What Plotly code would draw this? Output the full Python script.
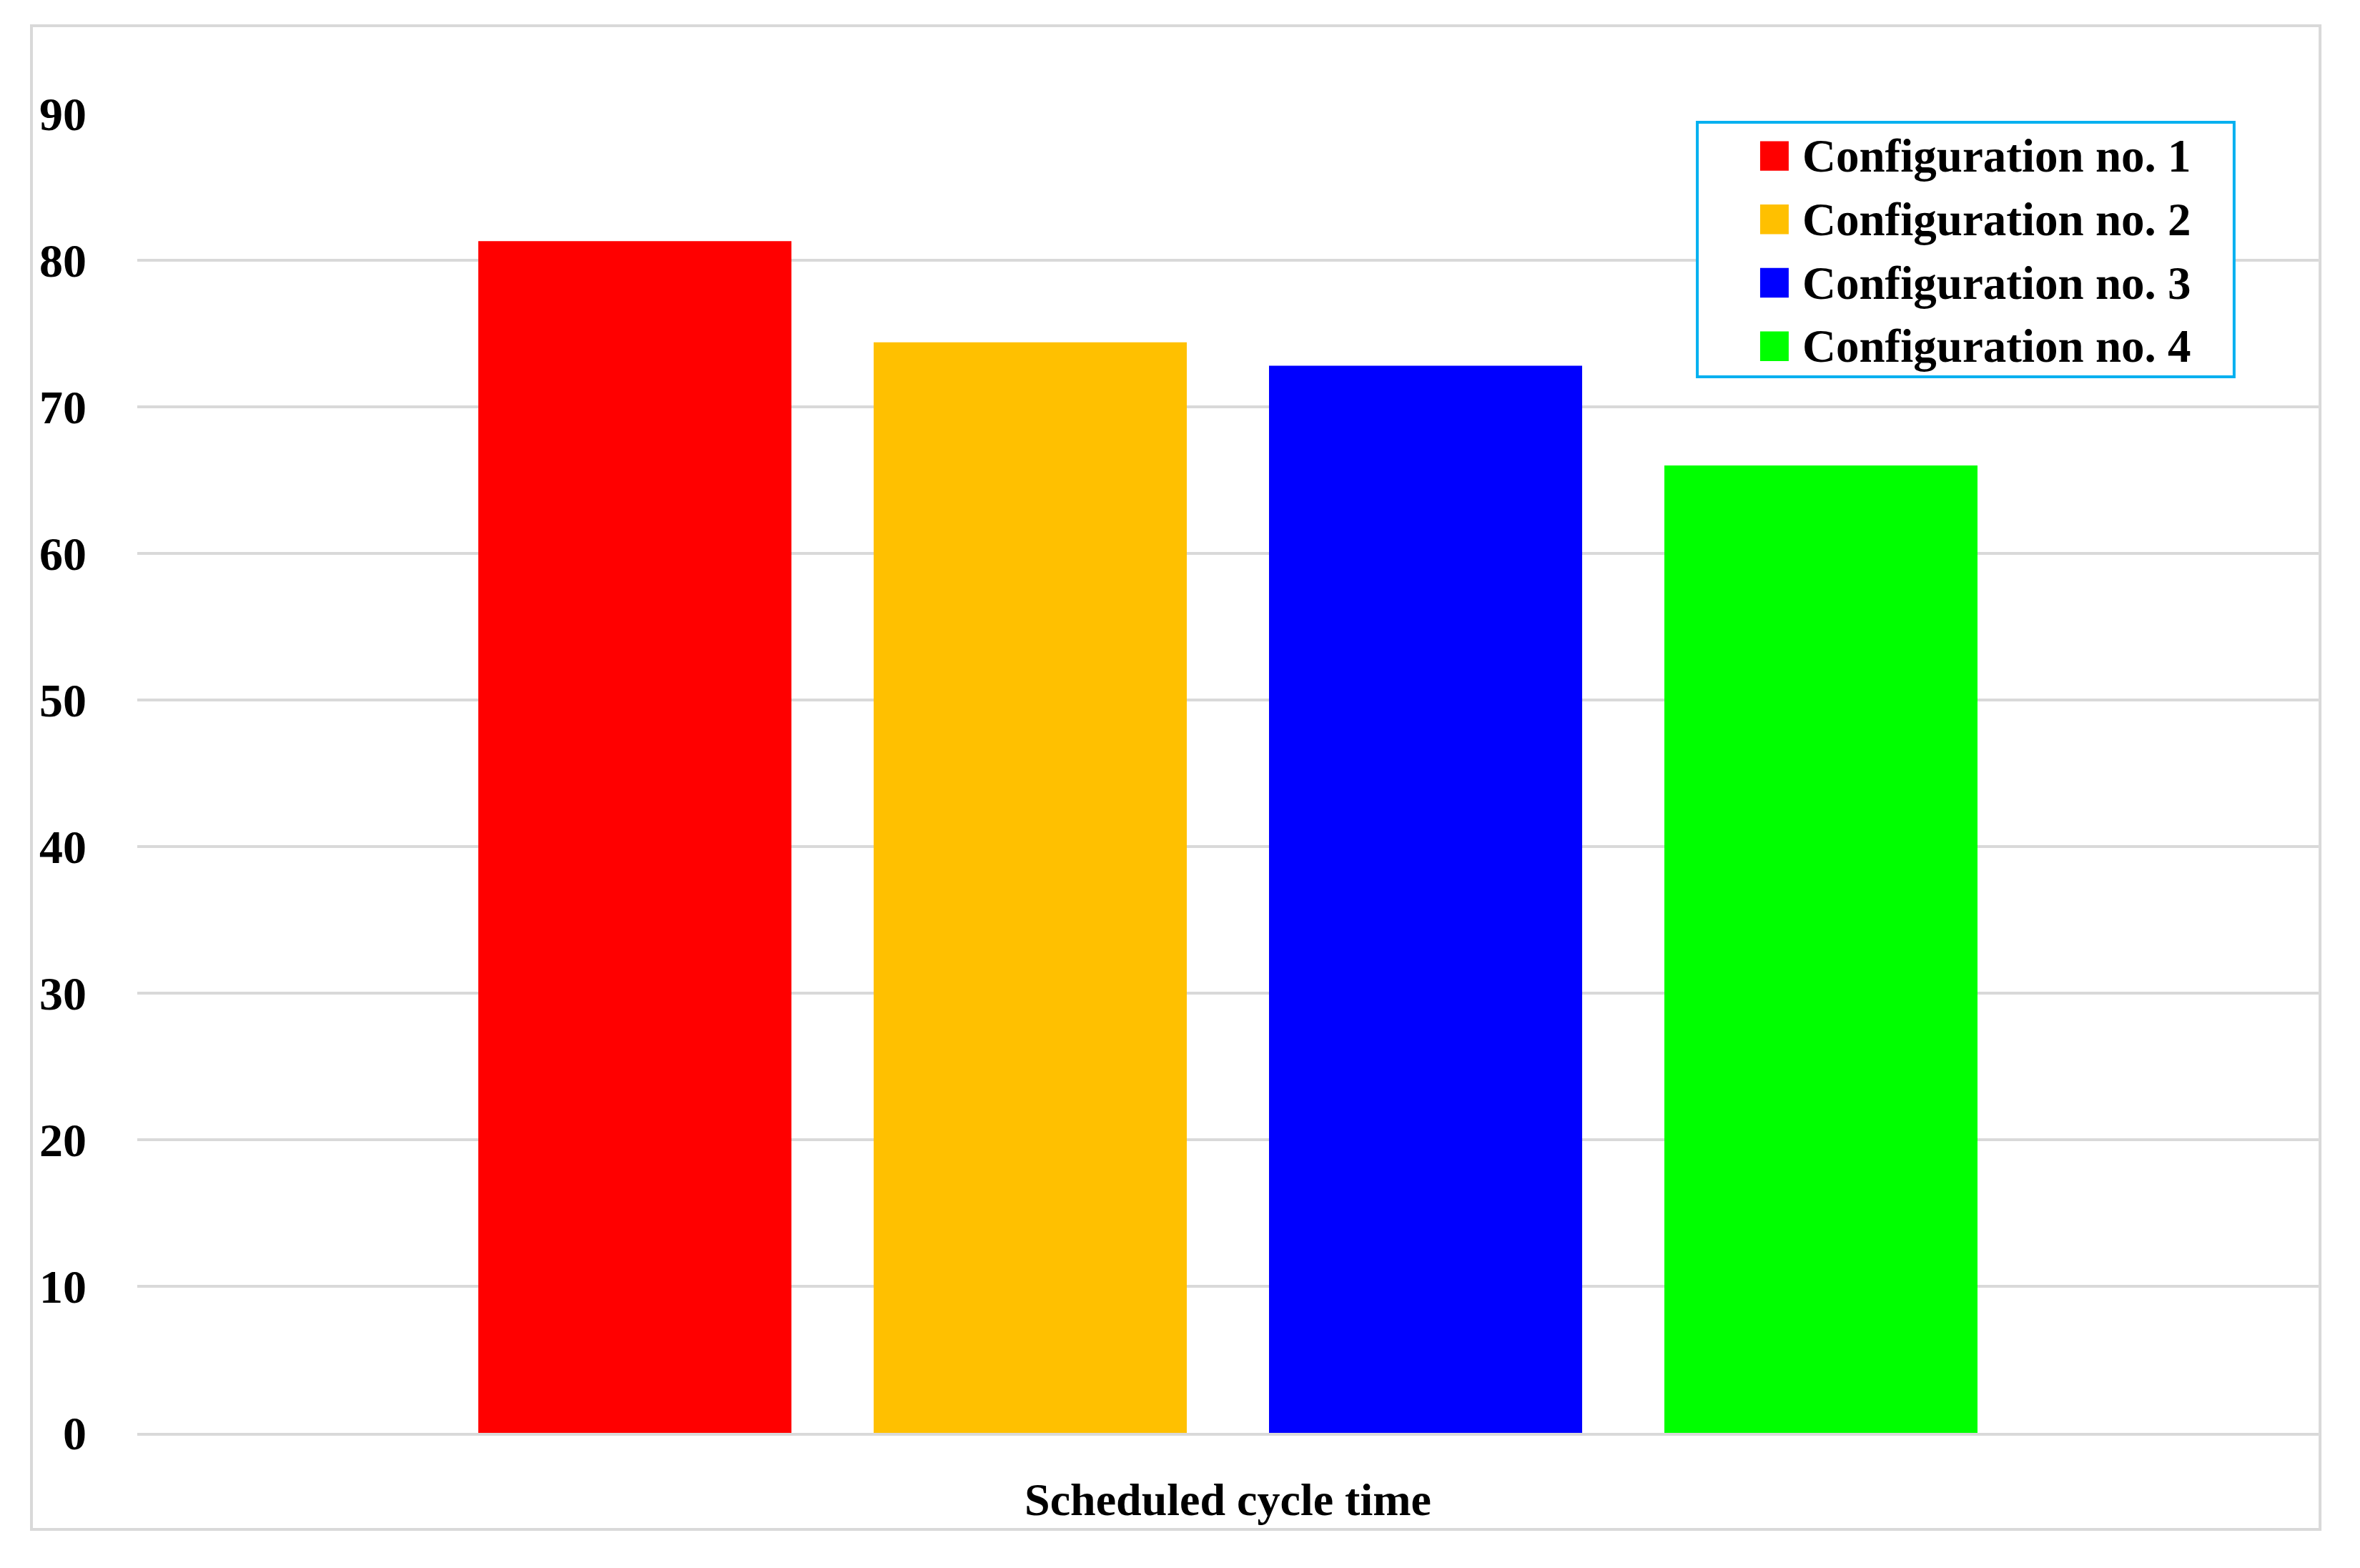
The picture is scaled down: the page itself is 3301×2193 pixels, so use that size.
import plotly.graph_objects as go

# data
category = ["Scheduled cycle time"]
configs = ["Configuration no. 1", "Configuration no. 2", "Configuration no. 3", "Configuration no. 4"]
cycle_time = [81.3, 74.4, 72.8, 66.0]
bar_colors = ["#ff0000", "#ffc000", "#0000ff", "#00ff00"]
y_ticks = [0, 10, 20, 30, 40, 50, 60, 70, 80, 90]

FONT = "Liberation Serif"
GRID = "#d9d9d9"


def main():
    fig = go.Figure()
    for name, val, col in zip(configs, cycle_time, bar_colors):
        fig.add_trace(go.Bar(x=category, y=[val], name=name, marker_color=col,
                             marker_line_width=0, showlegend=False))

    # legend drawn by hand so the swatches can be as big as in the original
    fig.add_shape(type="rect", xref="paper", yref="paper", x0=0.7152, x1=0.9613, y0=0.8005, y1=0.9935,
                  line=dict(color="#00b0f0", width=4), fillcolor="white", layer="above")
    for i, (name, col) in enumerate(zip(configs, bar_colors)):
        yc = 0.968 - i * 0.0481
        fig.add_shape(type="rect", xref="paper", yref="paper", x0=0.7440, x1=0.7571,
                      y0=yc - 0.0112, y1=yc + 0.0112, fillcolor=col, line_width=0, layer="above")
        fig.add_annotation(x=0.7627, y=yc, xref="paper", yref="paper", text=name, showarrow=False,
                           xanchor="left", yanchor="middle",
                           font=dict(family=FONT, size=65, color="black", weight="bold"))

    # chart area border
    fig.add_shape(type="rect", xref="paper", yref="paper", x0=-0.0485, x1=1.0007, y0=-0.0732, y1=1.0667,
                  line=dict(color=GRID, width=4), layer="below")

    # page body has an 8px margin, so the figure is a bit smaller than the window
    fig.update_layout(
        width=3293, height=2185,
        margin=dict(l=184, r=58, t=151, b=189),
        paper_bgcolor="white", plot_bgcolor="white",
        barmode="group", bargap=0.275, bargroupgap=0.208,
        font=dict(family=FONT, color="black"),
    )
    fig.update_yaxes(range=[0, 90], tickvals=y_ticks, showgrid=True, gridcolor=GRID, gridwidth=4,
                     zeroline=False, showline=False, ticklabelstandoff=70,
                     tickfont=dict(family=FONT, size=66, color="black", weight="bold"))
    fig.update_xaxes(showgrid=False, zeroline=False, showline=True, linecolor=GRID, linewidth=4,
                     ticklabelstandoff=34,
                     tickfont=dict(family=FONT, size=64, color="black", weight="bold"))
    fig.write_html("out.html")


if __name__ == "__main__":
    main()
